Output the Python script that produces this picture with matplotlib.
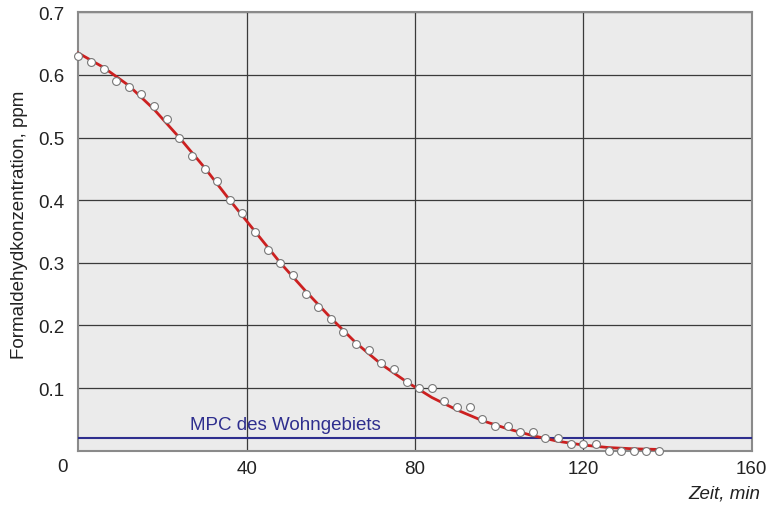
import matplotlib
matplotlib.use("Agg")
import matplotlib.pyplot as plt

# Measured data points (time in min, concentration in ppm)
time_min = [0, 3, 6, 9, 12, 15, 18, 21, 24, 27, 30, 33, 36, 39, 42, 45, 48, 51, 54,
            57, 60, 63, 66, 69, 72, 75, 78, 81, 84, 87, 90, 93, 96, 99, 102, 105,
            108, 111, 114, 117, 120, 123, 126, 129, 132, 135, 138]
conc_ppm = [0.63, 0.62, 0.61, 0.59, 0.58, 0.57, 0.55, 0.53, 0.50, 0.47, 0.45, 0.43,
            0.40, 0.38, 0.35, 0.32, 0.30, 0.28, 0.25, 0.23, 0.21, 0.19, 0.17, 0.16,
            0.14, 0.13, 0.11, 0.10, 0.10, 0.08, 0.07, 0.07, 0.05, 0.04, 0.04, 0.03,
            0.03, 0.02, 0.02, 0.01, 0.01, 0.01, 0.00, 0.00, 0.00, 0.00, 0.00]

# Fitted curve
fit_time = [0, 6, 12, 18, 24, 30, 36, 42, 48, 54, 60, 66, 72, 78, 84, 90, 96,
            102, 108, 114, 120, 126, 132, 138]
fit_conc = [0.635, 0.612, 0.583, 0.545, 0.500, 0.452, 0.400, 0.350, 0.300, 0.255,
            0.212, 0.172, 0.138, 0.110, 0.085, 0.065, 0.048, 0.035, 0.024, 0.015,
            0.009, 0.005, 0.003, 0.002]

mpc_value = 0.02
mpc_label = "MPC des Wohngebiets"

x_ticks = [40, 80, 120, 160]
y_ticks = [0.1, 0.2, 0.3, 0.4, 0.5, 0.6, 0.7]

plt.rcParams['font.family'] = ['Liberation Sans', 'DejaVu Sans']
FS = 13.5
TXT = '#222222'

fig = plt.figure(figsize=(7.66, 5.06), dpi=100)
ax = fig.add_axes([78.3 / 766, 1 - 451.7 / 506, (751.7 - 78.3) / 766, (451.7 - 13.3) / 506])
ax.set_facecolor('#ebebeb')

ax.set_xlim(0, 160)
ax.set_ylim(0, 0.7)
ax.set_xticks(x_ticks)
ax.set_yticks(y_ticks)
ax.set_xticklabels([str(v) for v in x_ticks])
ax.set_yticklabels([f"{v:.1f}" for v in y_ticks])
ax.tick_params(length=0, labelsize=FS, colors=TXT)
ax.tick_params(axis='y', pad=10)
ax.tick_params(axis='x', pad=7)

ax.grid(True, color='#3a3a3a', linewidth=0.9)
ax.set_axisbelow(True)
for s in ax.spines.values():
    s.set_color('#8a8a8a')
    s.set_linewidth(1.5)

ax.axhline(mpc_value, color='#2e2e8e', linewidth=1.5, zorder=3)
ax.text(26.6, mpc_value + 0.009, mpc_label, color='#2e2e8e', fontsize=FS,
        ha='left', va='bottom', zorder=4)

ax.plot(fit_time, fit_conc, color='#cc2020', linewidth=2, zorder=4, clip_on=False)
ax.scatter(time_min, conc_ppm, s=32, facecolor='white', edgecolor='#777777',
           linewidth=0.8, zorder=5, clip_on=False)

fig.text(20 / 766, 1 - 225 / 506, "Formaldehydkonzentration, ppm", fontsize=FS,
         rotation=90, ha='center', va='center', color=TXT)
fig.text(760 / 766, 1 - 494 / 506, "Zeit, min", fontsize=FS, style='italic',
         ha='right', va='center', color=TXT)
fig.text(63 / 766, 1 - 467.7 / 506, "0", fontsize=FS, ha='center', va='center',
         color=TXT)

fig.savefig("out.png", dpi=100)
